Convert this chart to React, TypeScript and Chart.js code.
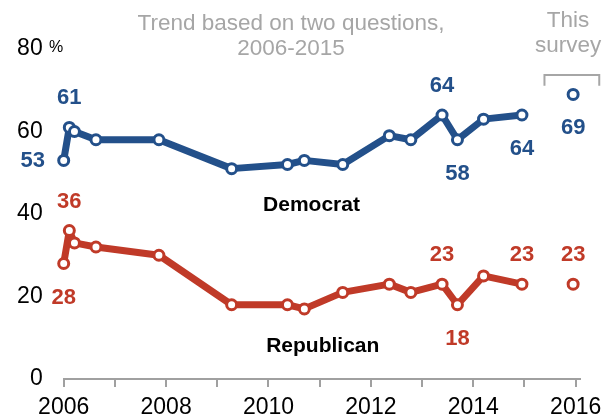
import { useEffect, useRef } from 'react';
import { Chart, registerables } from 'chart.js';

Chart.register(...registerables);

// ---- data ----
const trendYears = [2006.0, 2006.11, 2006.21, 2006.63, 2007.86, 2009.28, 2010.37, 2010.7, 2011.45, 2012.36, 2012.78, 2013.39, 2013.69, 2014.2, 2014.95];
const democratValues = [53, 61, 60, 58, 58, 51, 52, 53, 52, 59, 58, 64, 58, 63, 64];
const republicanValues = [28, 36, 33, 32, 30, 18, 18, 17, 21, 23, 21, 23, 18, 25, 23];
const surveyYears = [2015.95];
const democratSurvey = [69];
const republicanSurvey = [23];
const yTickValues = [0, 20, 40, 60, 80];
const xTickYears = [2006, 2008, 2010, 2012, 2014, 2016];

// which points get a value label, and where
const demLabelIdx = [0, 1, 11, 12, 14];
const demLabelPos = ['left', 'above', 'above', 'below', 'below'];
const repLabelIdx = [0, 1, 11, 12, 14];
const repLabelPos = ['below', 'above', 'above', 'below', 'above'];

const BLUE = '#23508a';
const RED = '#c03a28';
const GRAY = '#a6a6a6';
const AXIS = '#a0a0a0';
const FONT = '"Liberation Sans", Arial, sans-serif';

const annotPlugin = {
  id: 'annot',
  afterDatasetsDraw(chart: any) {
    const ctx = chart.ctx;
    const xs = chart.scales.x;
    const ys = chart.scales.y;
    ctx.save();
    ctx.textAlign = 'center';
    ctx.textBaseline = 'middle';

    const drawLabel = (el: any, text: string, pos: string, color: string) => {
      ctx.fillStyle = color;
      ctx.font = `bold 22px ${FONT}`;
      let x = el.x, y = el.y;
      if (pos === 'above') y -= 30;
      else if (pos === 'below') y += 33;
      else if (pos === 'left') x -= 31;
      ctx.fillText(text, x, y + 1);
    };

    const demMeta = chart.getDatasetMeta(0);
    const repMeta = chart.getDatasetMeta(1);
    const demSMeta = chart.getDatasetMeta(2);
    const repSMeta = chart.getDatasetMeta(3);
    demLabelIdx.forEach((i, k) => drawLabel(demMeta.data[i], String(democratValues[i]), demLabelPos[k], BLUE));
    repLabelIdx.forEach((i, k) => drawLabel(repMeta.data[i], String(republicanValues[i]), repLabelPos[k], RED));
    drawLabel(demSMeta.data[0], String(democratSurvey[0]), 'below', BLUE);
    drawLabel(repSMeta.data[0], String(republicanSurvey[0]), 'above', RED);

    // series names
    ctx.fillStyle = '#000';
    ctx.font = `bold 21px ${FONT}`;
    ctx.fillText('Democrat', xs.getPixelForValue(2010.84), ys.getPixelForValue(42.4) + 1);
    ctx.fillText('Republican', xs.getPixelForValue(2011.06), ys.getPixelForValue(8.1) + 1);

    // header notes
    ctx.fillStyle = GRAY;
    ctx.font = `22.5px ${FONT}`;
    ctx.fillText('Trend based on two questions,', xs.getPixelForValue(2010.44), ys.getPixelForValue(86.4) + 1);
    ctx.fillText('2006-2015', xs.getPixelForValue(2010.44), ys.getPixelForValue(80.4) + 1);
    ctx.fillText('This', xs.getPixelForValue(2015.85), ys.getPixelForValue(87.2) + 1);
    ctx.fillText('survey', xs.getPixelForValue(2015.85), ys.getPixelForValue(81.0) + 1);

    // bracket
    const bx1 = xs.getPixelForValue(2015.39);
    const bx2 = xs.getPixelForValue(2016.46);
    const byTop = ys.getPixelForValue(73.7);
    const byBot = ys.getPixelForValue(71.1);
    ctx.strokeStyle = GRAY;
    ctx.lineWidth = 2;
    ctx.beginPath();
    ctx.moveTo(bx1, byBot);
    ctx.lineTo(bx1, byTop);
    ctx.lineTo(bx2, byTop);
    ctx.lineTo(bx2, byBot);
    ctx.stroke();

    // percent sign next to top tick
    ctx.fillStyle = '#000';
    ctx.font = `16px ${FONT}`;
    ctx.textAlign = 'left';
    ctx.fillText('%', 49, ys.getPixelForValue(80) - 1);
    ctx.restore();
  },
};

export default function App() {
  const ref = useRef<HTMLCanvasElement>(null);
  useEffect(() => {
    if (!ref.current) return;
    const mk = (xsArr: number[], ysArr: number[]) => xsArr.map((x, i) => ({ x, y: ysArr[i] }));
    const common = {
      borderWidth: 7,
      pointRadius: 5,
      pointHoverRadius: 5,
      pointBorderWidth: 3,
      pointBackgroundColor: '#fff',
      tension: 0,
      borderJoinStyle: 'round' as const,
      clip: false as any,
    };
    const chart = new Chart(ref.current, {
      type: 'line',
      data: {
        datasets: [
          { ...common, label: 'Democrat', data: mk(trendYears, democratValues), borderColor: BLUE, pointBorderColor: BLUE },
          { ...common, label: 'Republican', data: mk(trendYears, republicanValues), borderColor: RED, pointBorderColor: RED },
          { ...common, label: 'Democrat survey', data: mk(surveyYears, democratSurvey), borderColor: BLUE, pointBorderColor: BLUE, showLine: false },
          { ...common, label: 'Republican survey', data: mk(surveyYears, republicanSurvey), borderColor: RED, pointBorderColor: RED, showLine: false },
        ],
      },
      options: {
        responsive: false,
        animation: false,
        layout: { padding: { left: 0, right: 33, top: 49, bottom: 0 } },
        plugins: { legend: { display: false }, tooltip: { enabled: false } },
        scales: {
          x: {
            type: 'linear',
            min: 2006,
            max: 2016.084,
            afterFit: (s: any) => { s.height = 41; },
            ticks: {
              stepSize: 1,
              includeBounds: false,
              autoSkip: false,
              maxRotation: 0,
              padding: 7,
              color: '#000',
              font: { family: FONT, size: 23 },
              callback: (v: any) => (xTickYears.includes(Number(v)) ? String(v) : ''),
            },
            grid: { drawOnChartArea: false, drawTicks: true, tickLength: 8, color: AXIS, lineWidth: 2 },
            border: { display: true, color: AXIS, width: 2 },
          },
          y: {
            min: 0,
            max: 80,
            afterFit: (s: any) => { s.width = 63.7; },
            afterBuildTicks: (s: any) => { s.ticks = yTickValues.map((v) => ({ value: v })); },
            ticks: {
              padding: 21,
              color: '#000',
              font: { family: FONT, size: 23 },
              callback: (v: any) => String(v),
            },
            grid: { display: false, drawTicks: false },
            border: { display: false },
          },
        },
      },
      plugins: [annotPlugin],
    });
    return () => chart.destroy();
  }, []);
  return (
    <div style={{ position: 'absolute', left: 0, top: 0, width: 613, height: 420, background: '#fff' }}>
      <canvas ref={ref} width={613} height={420} />
    </div>
  );
}
